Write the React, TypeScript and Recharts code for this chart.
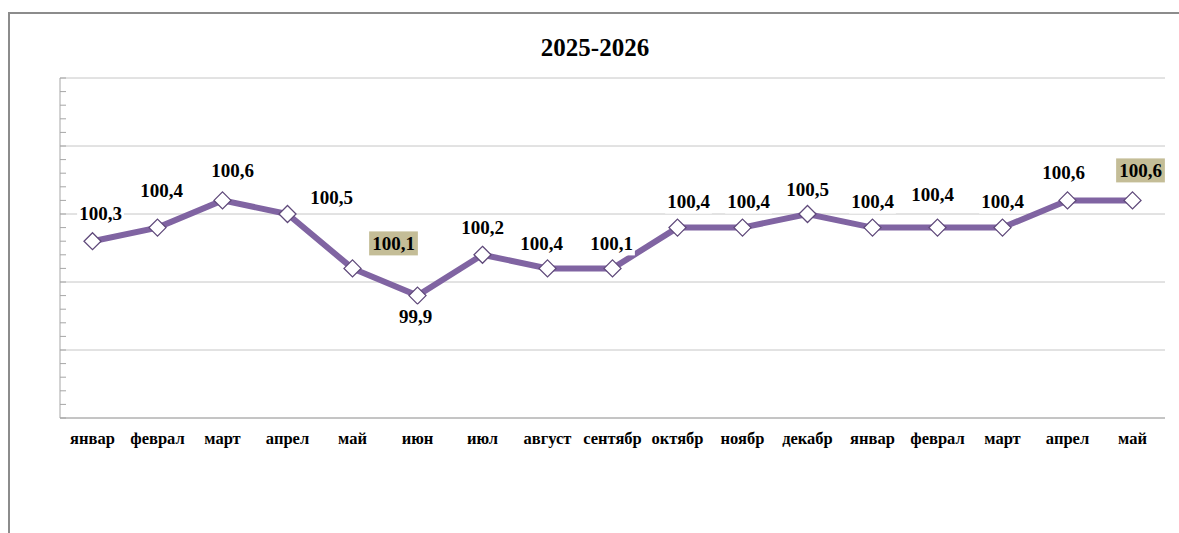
import { LineChart, Line, XAxis, YAxis, CartesianGrid, LabelList } from "recharts"

const months = ["январ", "феврал", "март", "апрел", "май", "июн", "июл", "август", "сентябр", "октябр", "ноябр", "декабр", "январ", "феврал", "март", "апрел", "май"]
const values = [100.3, 100.4, 100.6, 100.5, 100.1, 99.9, 100.2, 100.1, 100.1, 100.4, 100.4, 100.5, 100.4, 100.4, 100.4, 100.6, 100.6]
const labelTexts = ["100,3", "100,4", "100,6", "100,5", "100,1", "99,9", "100,2", "100,4", "100,1", "100,4", "100,4", "100,5", "100,4", "100,4", "100,4", "100,6", "100,6"]
const highlighted = [4, 16]
const majorTicks = [99, 99.5, 100, 100.5, 101, 101.5]
const minorTicks = [
  99, 99.1, 99.2, 99.3, 99.4, 99.5, 99.6, 99.7, 99.8, 99.9, 100, 100.1, 100.2, 100.3,
  100.4, 100.5, 100.6, 100.7, 100.8, 100.9, 101, 101.1, 101.2, 101.3, 101.4, 101.5,
]

// where each data label sits relative to its point (dx, dy), as placed in the original
const labelOffsets = [
  [8, -28], [4, -37], [10, -30], [44, -17], [41, -25], [-2, 21], [0, -27], [-6, -25], [-1, -25],
  [11, -26], [6, -26], [0, -25], [0, -26], [-5, -33], [0, -26], [-4, -28], [8, -30],
]

const data = months.map((m, i) => ({ month: m, value: values[i], label: labelTexts[i] }))

const FONT = '"Liberation Serif", "Times New Roman", serif'
const PURPLE = "#8064a2"

function textWidth(s: string, size: number) {
  let w = 0
  for (const ch of s) w += ch === "," ? 0.25 : 0.5
  return w * size
}

function Diamond(props: any) {
  const { cx, cy, index } = props
  if (cx == null || cy == null) return <g key={index} />
  const r = 8.5
  return (
    <path
      key={index}
      d={`M${cx},${cy - r} L${cx + r},${cy} L${cx},${cy + r} L${cx - r},${cy} Z`}
      fill="#fff"
      stroke="#5f497a"
      strokeWidth={1.3}
    />
  )
}

function DataLabel(props: any) {
  const { x, y, index } = props
  if (x == null || y == null) return null
  const text = labelTexts[index]
  const [dx, dy] = labelOffsets[index]
  const cx = x + dx
  const cy = y + dy
  const size = 19
  const w = textWidth(text, size)
  const hl = highlighted.includes(index)
  const padX = hl ? 3 : 2
  return (
    <g>
      <rect
        x={cx - w / 2 - padX}
        y={cy - 12}
        width={w + padX * 2}
        height={24}
        fill={hl ? "#c4bd97" : "#fff"}
      />
      <text
        x={cx}
        y={cy}
        textAnchor="middle"
        dominantBaseline="central"
        fontFamily={FONT}
        fontWeight="bold"
        fontSize={size}
        fill="#000"
      >
        {text}
      </text>
    </g>
  )
}

export default function App() {
  return (
    <div style={{ position: "absolute", left: 0, top: 0, width: 1179, height: 533, overflow: "hidden", background: "#fff" }}>
      <div
        style={{
          position: "absolute",
          left: 8,
          top: 12,
          width: 1300,
          height: 700,
          border: "2px solid #8c8c8c",
        }}
      />
      <div
        style={{
          position: "absolute",
          left: 0,
          width: 1190,
          top: 33,
          textAlign: "center",
          fontFamily: FONT,
          fontWeight: "bold",
          fontSize: 25,
          lineHeight: "30px",
        }}
      >
        2025-2026
      </div>
      <div style={{ position: "absolute", left: 0, top: 0 }}>
        <LineChart width={1179} height={533} data={data} margin={{ top: 78, right: 14, left: 60, bottom: 85 }}>
          <CartesianGrid vertical={false} horizontalValues={majorTicks} stroke="#c6c6c6" />
          <XAxis
            dataKey="month"
            height={30}
            interval={0}
            padding={{ left: 32.5, right: 32.5 }}
            axisLine={{ stroke: "#a6a6a6" }}
            tickLine={false}
            tickMargin={8}
            tick={{ fill: "#000", fontSize: 16.5, fontWeight: "bold", fontFamily: FONT }}
          />
          <YAxis
            domain={[99, 101.5]}
            ticks={minorTicks}
            interval={0}
            mirror
            width={1}
            tickSize={6}
            tickFormatter={() => ""}
            axisLine={{ stroke: "#a6a6a6" }}
            tickLine={{ stroke: "#a6a6a6" }}
            allowDataOverflow
          />
          <Line
            dataKey="value"
            stroke={PURPLE}
            strokeWidth={6}
            dot={Diamond}
            activeDot={false}
            isAnimationActive={false}
          >
            <LabelList dataKey="label" content={DataLabel} />
          </Line>
        </LineChart>
      </div>
    </div>
  )
}
